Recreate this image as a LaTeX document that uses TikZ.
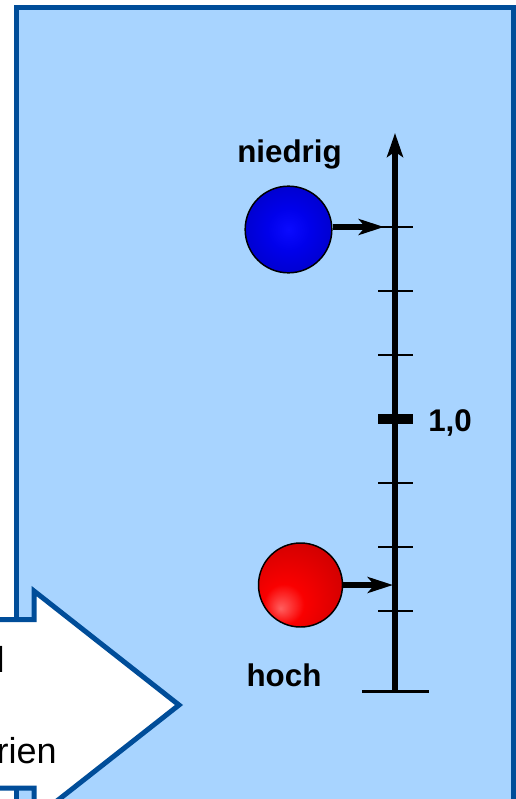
\documentclass[tikz,border=0pt]{standalone}
\usepackage{fontspec}
\setmainfont{Liberation Sans}
\usetikzlibrary{arrows.meta}

\definecolor{paneledge}{RGB}{0,77,153}
\definecolor{panelfill}{RGB}{168,212,255}

% glossy fills for the two spheres
\pgfdeclareradialshading{blueglow}{\pgfpoint{0bp}{0bp}}{%
  color(0bp)=(rgb,255:red,10;green,10;blue,255);
  color(12bp)=(rgb,255:red,0;green,0;blue,235);
  color(50bp)=(rgb,255:red,0;green,0;blue,160)}
\pgfdeclareradialshading{redglow}{\pgfpoint{-12bp}{-14bp}}{%
  color(0bp)=(rgb,255:red,255;green,95;blue,95);
  color(12bp)=(rgb,255:red,250;green,0;blue,0);
  color(66bp)=(rgb,255:red,150;green,0;blue,0)}

\begin{document}
\begin{tikzpicture}[x=.75pt, y=-.75pt,
  scaletick/.style={line width=1.9pt},
  ball/.style={circle, draw=black, line width=1.1pt, inner sep=0pt},
  push/.style={line width=4pt, -{Stealth[length=19pt,width=12pt,inset=5pt]}},
  tag/.style={inner sep=0pt, font=\bfseries\fontsize{23.5}{28}\selectfont}]

\useasboundingbox (0,0) rectangle (516,799);
\clip (0,0) rectangle (516,799);

% panel
\draw[line width=3.75pt, draw=paneledge, fill=panelfill]
  (16.5,7.5) rectangle (513.5,840);

% big arrow coming in from the left
\draw[line width=3.75pt, draw=paneledge, fill=white, line join=miter]
  (-80,619.5) -- (34,619.5) -- (34,591)
  -- (179,705)
  -- (34,819) -- (34,788) -- (-80,788) -- cycle;

\node[anchor=base east, inner sep=0pt, font=\fontsize{27}{32}\selectfont]
  (lineone) at (5,672) {l};
\node[anchor=base east, inner sep=0pt, font=\fontsize{27}{32}\selectfont]
  (linethree) at (57,763) {rien};

% scale
\coordinate (axisbot) at (395,691);
\coordinate (axistop) at (395,133);
\draw[line width=4pt, -{Stealth[length=18pt,width=12pt,inset=4pt]}]
  (axisbot) -- (axistop);
\draw[line width=2.25pt]
  (362,691) -- (429,691);

\foreach \y in {227,291,355,483,547,611}
  \draw[scaletick] (378,\y) -- (413,\y);
\draw[line width=7.5pt]
  (378,419) -- (413,419);
\node[tag, anchor=base west] (onetag) at (428,431) {1,0};

% spheres
\coordinate (lowmark) at (384,227);
\coordinate (highmark) at (393,585);

\node[ball, minimum size=65pt, shading=blueglow] (blueball) at (288.5,229.5) {};
\node[ball, minimum size=63pt, shading=redglow] (redball) at (300.5,585) {};

\draw[push] (blueball.east |- lowmark) -- (lowmark);
\draw[push] (redball.east) -- (highmark);

\node[tag, anchor=base] (lowtag) at (289.5,162) {niedrig};
\node[tag, anchor=base] (hightag) at (284,686) {hoch};

\end{tikzpicture}
\end{document}
